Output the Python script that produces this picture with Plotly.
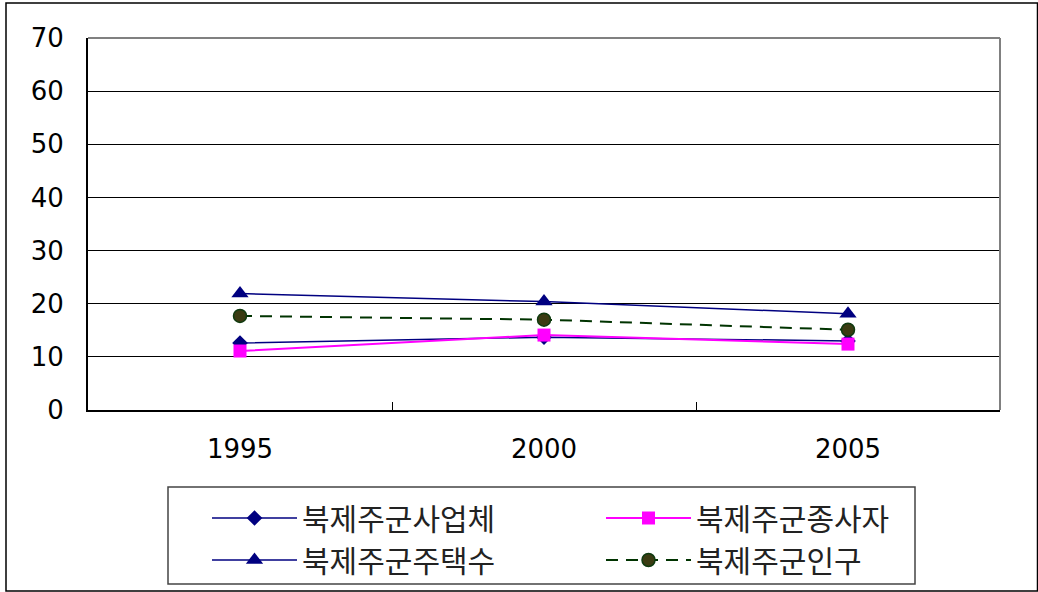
import plotly.graph_objects as go

years = ["1995", "2000", "2005"]
business = [12.6, 13.7, 13.0]      # 북제주군사업체
workers = [11.1, 14.1, 12.4]       # 북제주군종사자
housing = [21.9, 20.4, 18.1]       # 북제주군주택수
population = [17.7, 17.0, 15.1]    # 북제주군인구
y_ticks = [0, 10, 20, 30, 40, 50, 60, 70]

W, H = 1038, 592
L, R, T, B = 88, 1000, 38, 410  # plot area in pixels


def px_x(p):
    return (p - L) / (R - L)


def px_y(p):
    return (B - p) / (B - T)


fig = go.Figure()

fig.add_trace(go.Scatter(
    x=years, y=business, name="북제주군사업체", mode="lines+markers",
    line=dict(color="#000080", width=1.5),
    marker=dict(symbol="diamond", size=12, color="#000080"),
))
fig.add_trace(go.Scatter(
    x=years, y=workers, name="북제주군종사자", mode="lines+markers",
    line=dict(color="#FF00FF", width=2),
    marker=dict(symbol="square", size=13, color="#FF00FF"),
))
fig.add_trace(go.Scatter(
    x=years, y=housing, name="북제주군주택수", mode="lines+markers",
    line=dict(color="#000080", width=1.5),
    marker=dict(symbol="triangle-up", size=15, color="#000080"),
))
fig.add_trace(go.Scatter(
    x=years, y=population, name="북제주군인구", mode="lines+markers",
    line=dict(color="#003300", width=2, dash="12px,8px"),
    marker=dict(symbol="circle", size=13, color="#3B3B12",
                line=dict(color="#0F3A0F", width=1.5)),
))

shapes = [
    # outer chart frame
    dict(type="rect", xref="paper", yref="paper",
         x0=px_x(6), x1=px_x(1037.5), y0=px_y(591), y1=px_y(3),
         line=dict(color="#000000", width=1.5), layer="below"),
    # plot-area frame (top and right in grey)
    dict(type="line", xref="paper", yref="paper",
         x0=0, x1=1, y0=1, y1=1, line=dict(color="#808080", width=2)),
    dict(type="line", xref="paper", yref="paper",
         x0=1, x1=1, y0=0, y1=1, line=dict(color="#808080", width=2)),
    # legend frame
    dict(type="rect", xref="paper", yref="paper",
         x0=px_x(168), x1=px_x(915), y0=px_y(584), y1=px_y(487),
         line=dict(color="#444444", width=1.5), layer="below"),
]

fig.update_layout(
    width=W, height=592,
    margin=dict(l=L, r=W - R, t=T, b=H - B, pad=0, autoexpand=False),
    paper_bgcolor="white", plot_bgcolor="white",
    font=dict(family="DejaVu Sans", size=26, color="#000000"),
    showlegend=True,
    legend=dict(
        orientation="h", x=px_x(207), y=px_y(492),
        xanchor="left", yanchor="top",
        bgcolor="rgba(0,0,0,0)", borderwidth=0,
        font=dict(family="Noto Sans CJK KR", size=30, color="#222222"),
        itemwidth=85, entrywidth=294, entrywidthmode="pixels",
        traceorder="normal",
    ),
    shapes=shapes,
)

fig.update_xaxes(
    type="category", categoryorder="array", categoryarray=years,
    showline=True, linecolor="#000000", linewidth=2,
    showgrid=False, ticks="inside", ticklen=8, tickcolor="#000000",
    tickson="boundaries", tickwidth=1,
    ticklabelstandoff=15,
    tickfont=dict(family="DejaVu Sans", size=26),
    range=[-0.5, 2.5], fixedrange=True,
)
fig.update_yaxes(
    range=[0, 70], tickvals=y_ticks, ticktext=[str(v) for v in y_ticks],
    showline=True, linecolor="#000000", linewidth=2,
    showgrid=True, gridcolor="#000000", gridwidth=1,
    zeroline=False, ticks="", ticklabelstandoff=17,
    tickfont=dict(family="DejaVu Sans", size=26),
)

fig.write_html("out.html")
